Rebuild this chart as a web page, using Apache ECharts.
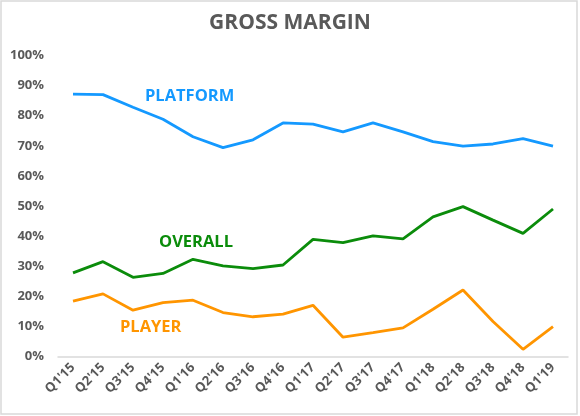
<!DOCTYPE html>
<html><head><meta charset="utf-8">
<script src="https://cdn.jsdelivr.net/npm/echarts@6/dist/echarts.min.js"></script>
<style>html,body{margin:0;padding:0;background:#fff}#c{width:580px;height:416px}</style>
</head><body><div id="c"></div>
<script>
var categories = ["Q1'15","Q2'15","Q3'15","Q4'15","Q1'16","Q2'16","Q3'16","Q4'16","Q1'17","Q2'17","Q3'17","Q4'17","Q1'18","Q2'18","Q3'18","Q4'18","Q1'19"];
var platform = [87.2,87.0,82.8,78.8,73.0,69.4,72.0,77.6,77.2,74.6,77.6,74.6,71.4,69.9,70.6,72.4,69.9];
var overall  = [27.8,31.5,26.3,27.6,32.3,30.1,29.2,30.4,38.9,37.8,40.1,39.1,46.4,49.8,45.3,40.9,49.0];
var player   = [18.4,20.8,15.4,17.9,18.7,14.6,13.2,14.1,17.0,6.4,7.9,9.5,15.7,22.1,11.6,2.4,9.9];
var seriesNames = ["PLATFORM","OVERALL","PLAYER"];
var colors = ["#1499ff","#0b8c0b","#ff9500"];
var chart = echarts.init(document.getElementById('c'));
var font = '"Open Sans", Lato, sans-serif';
function mk(name, data, color){
  return {name:name,type:'line',data:data,symbol:'none',smooth:false,
    lineStyle:{color:color,width:2.8},itemStyle:{color:color}};
}
chart.setOption({
  animation:false,
  title:{text:'GROSS MARGIN',left:'center',top:8,textStyle:{fontFamily:font,fontWeight:'bold',fontSize:21,color:'#595959'}},
  grid:{left:58,right:12,top:55.5,bottom:59.5},
  xAxis:{type:'category',data:categories,boundaryGap:true,
    axisLine:{lineStyle:{color:'#d9d9d9',width:1.5}},axisTick:{show:false},
    axisLabel:{rotate:45,interval:0,fontFamily:font,fontWeight:'bold',fontSize:13,color:'#595959',margin:9}},
  yAxis:{type:'value',min:0,max:100,interval:10,
    axisLine:{show:false},axisTick:{show:false},splitLine:{show:false},
    axisLabel:{formatter:'{value}%',fontFamily:font,fontWeight:'bold',fontSize:13,color:'#595959',margin:14}},
  series:[mk(seriesNames[0],platform,colors[0]),mk(seriesNames[1],overall,colors[1]),mk(seriesNames[2],player,colors[2])],
  graphic:[
    {type:'rect',shape:{x:1,y:1,width:576,height:413},style:{fill:'none',stroke:'#d9d9d9',lineWidth:1.5},silent:true},
    {type:'text',left:145,top:88,style:{text:seriesNames[0],fill:colors[0],font:'bold 16.5px '+font}},
    {type:'text',left:159,top:234,style:{text:seriesNames[1],fill:colors[1],font:'bold 16.5px '+font}},
    {type:'text',left:120,top:319,style:{text:seriesNames[2],fill:colors[2],font:'bold 16.5px '+font}}
  ]
});
</script></body></html>
